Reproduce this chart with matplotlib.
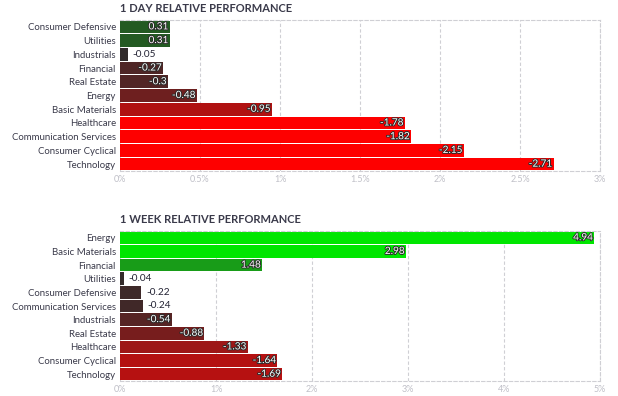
import matplotlib.pyplot as plt
import matplotlib.patheffects as pe
from matplotlib.ticker import FuncFormatter

plt.rcParams['font.family'] = ['Lato', 'DejaVu Sans']

# 1 day data
day_sectors = ['Consumer Defensive', 'Utilities', 'Industrials', 'Financial', 'Real Estate',
               'Energy', 'Basic Materials', 'Healthcare', 'Communication Services',
               'Consumer Cyclical', 'Technology']
day_values = [0.31, 0.31, -0.05, -0.27, -0.3, -0.48, -0.95, -1.78, -1.82, -2.15, -2.71]
day_colors = ['#235a22', '#235a22', '#302a2a', '#4f2626', '#512525', '#6e1f1f',
              '#b01111', '#fe0000', '#fe0000', '#fe0000', '#fe0000']
day_ticks = [0, 0.5, 1, 1.5, 2, 2.5, 3]

# 1 week data
week_sectors = ['Energy', 'Basic Materials', 'Financial', 'Utilities', 'Consumer Defensive',
                'Communication Services', 'Industrials', 'Real Estate', 'Healthcare',
                'Consumer Cyclical', 'Technology']
week_values = [4.94, 2.98, 1.48, -0.04, -0.22, -0.24, -0.54, -0.88, -1.33, -1.64, -1.69]
week_colors = ['#00e600', '#00e600', '#189c18', '#332a2a', '#3e2929', '#402828',
               '#562424', '#771d1d', '#9d1717', '#b41111', '#b61111']
week_ticks = [0, 1, 2, 3, 4, 5]


def draw(ax, title, sectors, values, colors, ticks):
    n = len(sectors)
    ypos = list(range(n))
    widths = [abs(v) for v in values]
    xmax = ticks[-1]
    ax.barh(ypos, widths, height=0.92, color=colors, zorder=2)
    ax.set_ylim(n - 0.5, -0.5)
    ax.set_xlim(0, xmax)
    ax.set_yticks(ypos)
    ax.set_yticklabels(sectors, fontsize=6.9, color='#3a3a4a')
    ax.set_xticks(ticks)
    ax.xaxis.set_major_formatter(FuncFormatter(lambda x, p: f'{x:g}%'))
    ax.tick_params(axis='x', labelsize=6.5, labelcolor='#c0c0c8', length=0, pad=3)
    ax.tick_params(axis='y', length=0, pad=3)
    ax.grid(axis='x', color='#cfcfd4', linestyle=(0, (3, 2)), linewidth=0.8, zorder=0)
    for side in ['top', 'right', 'bottom']:
        ax.spines[side].set_color('#cfcfd4')
        ax.spines[side].set_linestyle((0, (3, 2)))
        ax.spines[side].set_linewidth(0.8)
    ax.spines['left'].set_visible(False)
    # value labels: white inside the bar, dark beside short bars
    for y, w, v in zip(ypos, widths, values):
        txt = f'{v:g}'
        if w > 0.07 * xmax:
            ax.text(w - 0.003 * xmax, y, txt, ha='right', va='center', fontsize=7.2,
                    color='white', zorder=3,
                    path_effects=[pe.withStroke(linewidth=1.3, foreground='#2a2a2a')])
        else:
            ax.text(w + 0.01 * xmax, y, txt, ha='left', va='center', fontsize=7.2,
                    color='#222233', zorder=3)
    ax.text(0, 1.04, title, transform=ax.transAxes, ha='left', va='bottom',
            fontsize=8, fontweight='bold', color='#3a3a4a')


fig = plt.figure(figsize=(6.18, 3.96), dpi=100)
ax1 = fig.add_axes([120 / 618, 1 - 171 / 396, 480 / 618, 151 / 396])
ax2 = fig.add_axes([120 / 618, 1 - 381 / 396, 480 / 618, 150 / 396])

draw(ax1, '1 DAY RELATIVE PERFORMANCE', day_sectors, day_values, day_colors, day_ticks)
draw(ax2, '1 WEEK RELATIVE PERFORMANCE', week_sectors, week_values, week_colors, week_ticks)

fig.savefig('out.png', dpi=100)
